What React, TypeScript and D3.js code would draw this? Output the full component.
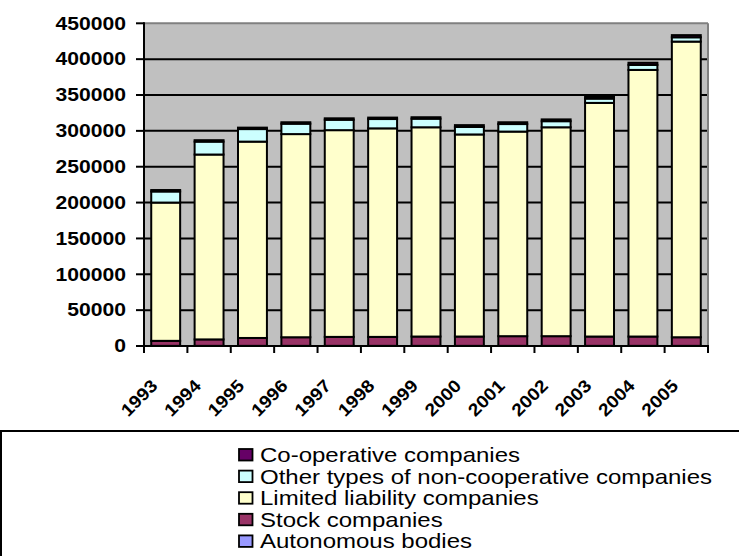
import React from "react";
import * as d3 from "d3";

const years = ["1993","1994","1995","1996","1997","1998","1999","2000","2001","2002","2003","2004","2005"];
const autonomous = [200,200,200,200,200,200,200,200,200,200,200,200,200];
const stock = [7000,9000,11000,12000,12500,12500,13000,13000,13500,13500,13000,13000,12000];
const limited = [192800,257800,273800,283300,288300,290800,291800,281800,285300,291300,325800,371800,412300];
const otherTypes = [15500,18000,17500,14500,14500,13000,12000,10500,10500,8500,6000,7000,6000];
const coop = [2000,2000,2000,2000,2000,2000,2000,2500,2500,2500,2500,3000,3000];
const yTicks = [0,50000,100000,150000,200000,250000,300000,350000,400000,450000];

const seriesKeys = ["autonomous","stock","limited","otherTypes","coop"];
const seriesNames: Record<string,string> = {
  coop: "Co-operative companies",
  otherTypes: "Other types of non-cooperative companies",
  limited: "Limited liability companies",
  stock: "Stock companies",
  autonomous: "Autonomous bodies",
};
const colors: Record<string,string> = {
  autonomous: "#9999FF",
  stock: "#993366",
  limited: "#FFFFCC",
  otherTypes: "#CCFFFF",
  coop: "#660066",
};
const legendOrder = ["coop","otherTypes","limited","stock","autonomous"];

const SX = 1.2;
const FONT = "'Liberation Sans', Arial, sans-serif";

export default function App() {
  const rows = years.map((yr, i) => ({
    year: yr,
    autonomous: autonomous[i],
    stock: stock[i],
    limited: limited[i],
    otherTypes: otherTypes[i],
    coop: coop[i],
  }));
  const stacked = d3.stack<any>().keys(seriesKeys)(rows);

  const left = 144, right = 708, top = 23.3, bottom = 346;
  const x = d3.scaleBand().domain(years).range([left, right]).paddingInner(1 / 3).paddingOuter(1 / 6);
  const y = d3.scaleLinear().domain([0, 450000]).range([bottom, top]);
  const step = x.step();

  return (
    <svg width={739} height={556} style={{ position: "absolute", left: 0, top: 0, background: "#fff" }}>
      <rect x={left} y={top} width={right - left} height={bottom - top} fill="#C0C0C0" />
      {yTicks.filter(t => t > 0 && t < 450000).map(t => (
        <line key={t} x1={left} x2={right} y1={y(t)} y2={y(t)} stroke="#000" strokeWidth={2} />
      ))}
      <line x1={left} x2={right} y1={top} y2={top} stroke="#808080" strokeWidth={2} />
      <line x1={right} x2={right} y1={top} y2={bottom} stroke="#808080" strokeWidth={2} />
      {stacked.map(s => (
        <g key={s.key}>
          {s.map((d, i) => (
            <rect key={i} x={x(years[i])} width={x.bandwidth()} y={y(d[1])} height={Math.max(0, y(d[0]) - y(d[1]))}
              fill={colors[s.key]} stroke="#000" strokeWidth={2} />
          ))}
        </g>
      ))}
      <line x1={left} x2={left} y1={top - 1} y2={bottom} stroke="#000" strokeWidth={2} />
      <line x1={left - 1} x2={right + 1} y1={bottom} y2={bottom} stroke="#000" strokeWidth={2} />
      {yTicks.map(t => (
        <g key={t}>
          <line x1={left - 8} x2={left} y1={y(t)} y2={y(t)} stroke="#000" strokeWidth={2} />
          <g transform={`translate(126,${y(t)}) scale(${SX},1)`}>
            <text x={0} y={0} dy="0.36em" textAnchor="end" fontFamily={FONT} fontWeight="bold" fontSize={17.6} fill="#000">{t}</text>
          </g>
        </g>
      ))}
      {d3.range(years.length + 1).map(i => (
        <line key={i} x1={left + i * step} x2={left + i * step} y1={bottom} y2={bottom + 7} stroke="#000" strokeWidth={2} />
      ))}
      {years.map(yr => {
        const cx = (x(yr) as number) + x.bandwidth() / 2;
        return (
          <g key={yr} transform={`translate(${cx - 7},387) rotate(-45) scale(1.1,1)`}>
            <text x={0} y={0} textAnchor="end" fontFamily={FONT} fontWeight="bold" fontSize={17.6} fill="#000">{yr}</text>
          </g>
        );
      })}
      <rect x={1} y={431} width={800} height={200} fill="none" stroke="#000" strokeWidth={2} />
      {legendOrder.map((k, i) => {
        const cy = 455 + i * 21.6;
        return (
          <g key={k}>
            <rect x={239} y={cy - 6} width={13.5} height={11.5} fill={colors[k]} stroke="#000" strokeWidth={1.8} />
            <g transform={`translate(260,${cy + 7}) scale(${SX},1)`}>
              <text x={0} y={0} fontFamily={FONT} fontSize={20} fill="#000">{seriesNames[k]}</text>
            </g>
          </g>
        );
      })}
    </svg>
  );
}
